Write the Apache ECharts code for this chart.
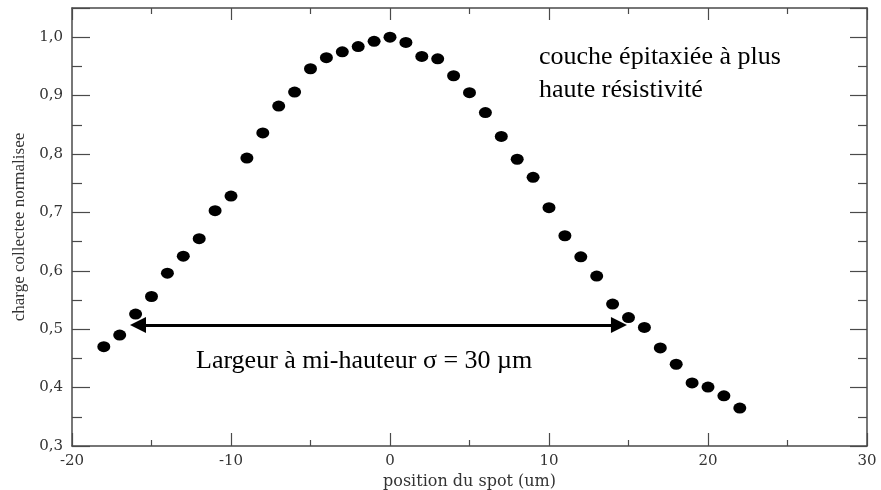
<!DOCTYPE html>
<html>
<head>
<meta charset="utf-8">
<script src="https://cdn.jsdelivr.net/npm/echarts@6/dist/echarts.min.js"></script>
<style>
  html, body { margin: 0; padding: 0; background: #fff; }
  #chart { width: 881px; height: 490px; }
</style>
</head>
<body>
<div id="chart"></div>
<script>
// positions du spot (um)
var positions = [-18, -17, -16, -15, -14, -13, -12, -11, -10, -9, -8, -7, -6, -5, -4, -3, -2, -1, 0,
  1, 2, 3, 4, 5, 6, 7, 8, 9, 10, 11, 12, 13, 14, 15, 16, 17, 18, 19, 20, 21, 22];
// charge collectee normalisee
var charges = [0.470, 0.490, 0.526, 0.556, 0.596, 0.625, 0.655, 0.703, 0.728, 0.793, 0.836, 0.882, 0.906,
  0.946, 0.965, 0.975, 0.984, 0.993, 1.000, 0.991, 0.967, 0.963, 0.934, 0.905, 0.871, 0.830, 0.791, 0.760,
  0.708, 0.660, 0.624, 0.591, 0.543, 0.520, 0.503, 0.468, 0.440, 0.408, 0.401, 0.386, 0.365];
// fleche largeur a mi-hauteur
var arrowX = [-15.85, 14.4];
var arrowY = 0.507;

var xTicks = [-20, -10, 0, 10, 20, 30];
var yTicks = [0.3, 0.4, 0.5, 0.6, 0.7, 0.8, 0.9, 1.0];

var points = positions.map(function (x, i) { return [x, charges[i]]; });

var axisColor = '#4a4a4a';
var labelFont = 'DejaVu Serif';

function yLabel(v) {
  for (var i = 0; i < yTicks.length; i++) {
    if (Math.abs(yTicks[i] - v) < 1e-6) return v.toFixed(1).replace('.', ',');
  }
  return '';
}

function xLabel(v) {
  return xTicks.indexOf(Math.round(v)) >= 0 ? String(Math.round(v)) : '';
}

var chart = echarts.init(document.getElementById('chart'));

chart.setOption({
  animation: false,
  backgroundColor: '#fff',
  grid: { left: 72, right: 14, top: 8, bottom: 44, containLabel: false, outerBoundsMode: 'none' },
  xAxis: [
    {
      type: 'value', min: -20, max: 30, interval: 10, position: 'bottom',
      name: 'position du spot (um)', nameLocation: 'middle', nameGap: 28,
      nameTextStyle: { fontFamily: labelFont, fontSize: 16, color: '#333' },
      axisLine: { onZero: false, lineStyle: { color: axisColor, width: 1.5 } },
      axisTick: { inside: true, length: 13, lineStyle: { color: axisColor, width: 1.2 } },
      minorTick: { show: true, splitNumber: 2, length: 6, lineStyle: { color: axisColor, width: 1.2 } },
      axisLabel: { formatter: xLabel, fontFamily: labelFont, fontSize: 15, color: '#333', margin: 8 },
      splitLine: { show: false }
    },
    {
      type: 'value', min: -20, max: 30, interval: 10, position: 'top',
      axisLine: { onZero: false, lineStyle: { color: axisColor, width: 1.5 } },
      axisTick: { inside: true, length: 12, lineStyle: { color: axisColor, width: 1.2 } },
      minorTick: { show: true, splitNumber: 2, length: 6, lineStyle: { color: axisColor, width: 1.2 } },
      axisLabel: { show: false },
      splitLine: { show: false }
    }
  ],
  yAxis: [
    {
      type: 'value', min: 0.3, max: 1.05, interval: 0.1, position: 'left',
      name: 'charge collectee normalisee', nameLocation: 'middle', nameGap: 43,
      nameTextStyle: { fontFamily: 'Liberation Serif', fontSize: 17, color: '#333' },
      axisLine: { onZero: false, lineStyle: { color: axisColor, width: 1.5 } },
      axisTick: { inside: true, length: 18, lineStyle: { color: axisColor, width: 1.2 } },
      minorTick: { show: true, splitNumber: 2, length: 10, lineStyle: { color: axisColor, width: 1.2 } },
      axisLabel: { formatter: yLabel, fontFamily: labelFont, fontSize: 15, color: '#333', margin: 9 },
      splitLine: { show: false }
    },
    {
      type: 'value', min: 0.3, max: 1.05, interval: 0.1, position: 'right',
      axisLine: { onZero: false, lineStyle: { color: axisColor, width: 1.5 } },
      axisTick: { inside: true, length: 17, lineStyle: { color: axisColor, width: 1.2 } },
      minorTick: { show: true, splitNumber: 2, length: 9, lineStyle: { color: axisColor, width: 1.2 } },
      axisLabel: { show: false },
      splitLine: { show: false }
    }
  ],
  series: [
    {
      type: 'scatter',
      data: points,
      symbol: 'circle',
      symbolSize: [13, 11],
      itemStyle: { color: '#000', opacity: 1 },
      markLine: {
        silent: true,
        symbol: ['triangle', 'triangle'],
        symbolSize: [16, 16],
        label: { show: false },
        lineStyle: { color: '#000', width: 3, type: 'solid', opacity: 1 },
        data: [[{ coord: [arrowX[0], arrowY] }, { coord: [arrowX[1], arrowY] }]]
      }
    }
  ],
  graphic: [
    {
      type: 'text', left: 539, top: 41,
      style: {
        text: 'couche épitaxiée à plus\nhaute résistivité',
        font: '26px "Liberation Serif"', fill: '#000', lineHeight: 33
      }
    },
    {
      type: 'text', left: 196, top: 345,
      style: {
        text: 'Largeur à mi-hauteur σ = 30 µm',
        font: '26px "Liberation Serif"', fill: '#000', lineHeight: 33
      }
    }
  ]
});
</script>
</body>
</html>
